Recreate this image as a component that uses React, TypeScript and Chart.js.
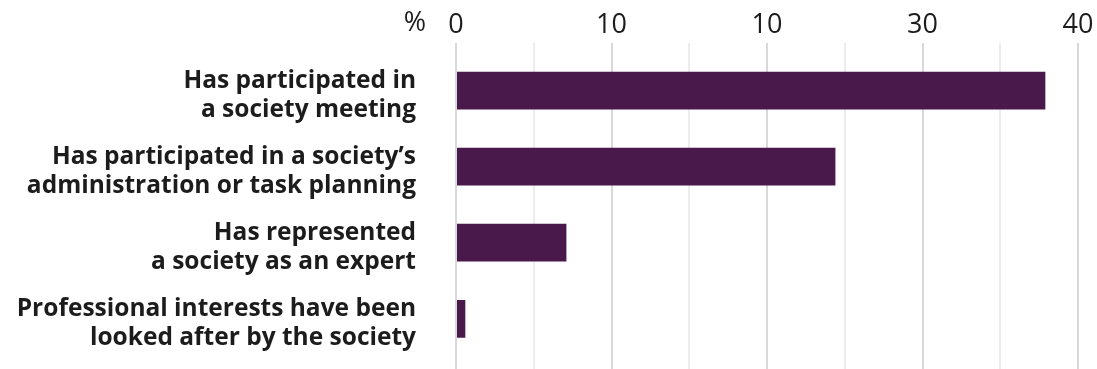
import React, { useEffect, useRef } from "react";
import { Chart, registerables } from "chart.js";

Chart.register(...registerables);

// Survey items (multi-line labels) and share of respondents, %
const categories: string[][] = [
  ["Has participated in", "a society meeting"],
  ["Has participated in a society\u2019s", "administration or task planning"],
  ["Has represented", "a society as an expert"],
  ["Professional interests have been", "looked after by the society"],
];
const values: number[] = [37.9, 24.4, 7.1, 0.6];

// Labels printed at every 10 % along the top axis
const xTickLabels: string[] = ["0", "10", "10", "30", "40"];
const unitLabel = "%";

const BAR = "#4a194c";
const TEXT = "#1c1c1c";
const FONT = "'Open Sans', 'Noto Sans', sans-serif";

const unitPlugin = {
  id: "unitLabel",
  afterDraw(chart: any) {
    const xs = chart.scales.x;
    const ctx = chart.ctx;
    ctx.save();
    ctx.font = `400 27px ${FONT}`;
    ctx.fillStyle = TEXT;
    ctx.textAlign = "center";
    ctx.textBaseline = "middle";
    ctx.fillText(unitLabel, xs.getPixelForValue(0) - 41, 23);
    ctx.restore();
  },
};

export default function App() {
  const ref = useRef<HTMLCanvasElement | null>(null);

  useEffect(() => {
    if (!ref.current) return;
    const chart = new Chart(ref.current, {
      type: "bar",
      data: {
        datasets: [
          {
            data: values.map((v, i) => ({ x: v, y: i })),
            backgroundColor: BAR,
            borderWidth: 0,
            categoryPercentage: 1,
            barPercentage: 0.497,
          },
        ],
      },
      options: {
        indexAxis: "y",
        animation: false,
        responsive: false,
        layout: { padding: { left: 0, right: 19, top: 7, bottom: 0 } },
        plugins: { legend: { display: false }, tooltip: { enabled: false } },
        scales: {
          x: {
            type: "linear",
            position: "top",
            min: 0,
            max: 40,
            offset: false,
            border: { display: false },
            grid: {
              drawTicks: false,
              lineWidth: 2,
              color: (c: any) =>
                c.tick && c.tick.value % 10 === 0 ? "#d9d9d9" : "#ececec",
            },
            ticks: {
              stepSize: 5,
              autoSkip: false,
              maxRotation: 0,
              padding: 2,
              color: TEXT,
              font: { family: FONT, size: 27, weight: "400" },
              callback: (v: any) =>
                Number(v) % 10 === 0 ? xTickLabels[Number(v) / 10] : "",
            },
          },
          y: {
            type: "linear",
            reverse: true,
            min: -0.62,
            max: 3.66,
            offset: false,
            border: { display: false },
            grid: { display: false, drawTicks: false, offset: false },
            afterBuildTicks: (scale: any) => {
              scale.ticks = categories.map((_, i) => ({ value: i }));
            },
            afterFit: (scale: any) => {
              scale.width = 456;
              scale.paddingTop = 0;
              scale.paddingBottom = 0;
            },
            ticks: {
              autoSkip: false,
              padding: 40,
              labelOffset: 5,
              color: TEXT,
              font: { family: FONT, size: 24.5, weight: "700", lineHeight: 1.2 },
              callback: (v: any) => categories[Number(v)] ?? "",
            },
          },
        },
      },
      plugins: [unitPlugin],
    });
    return () => chart.destroy();
  }, []);

  return (
    <div style={{ position: "absolute", left: 0, top: 0, width: 1097, height: 369, background: "#fff" }}>
      <canvas ref={ref} width={1097} height={369} />
    </div>
  );
}
